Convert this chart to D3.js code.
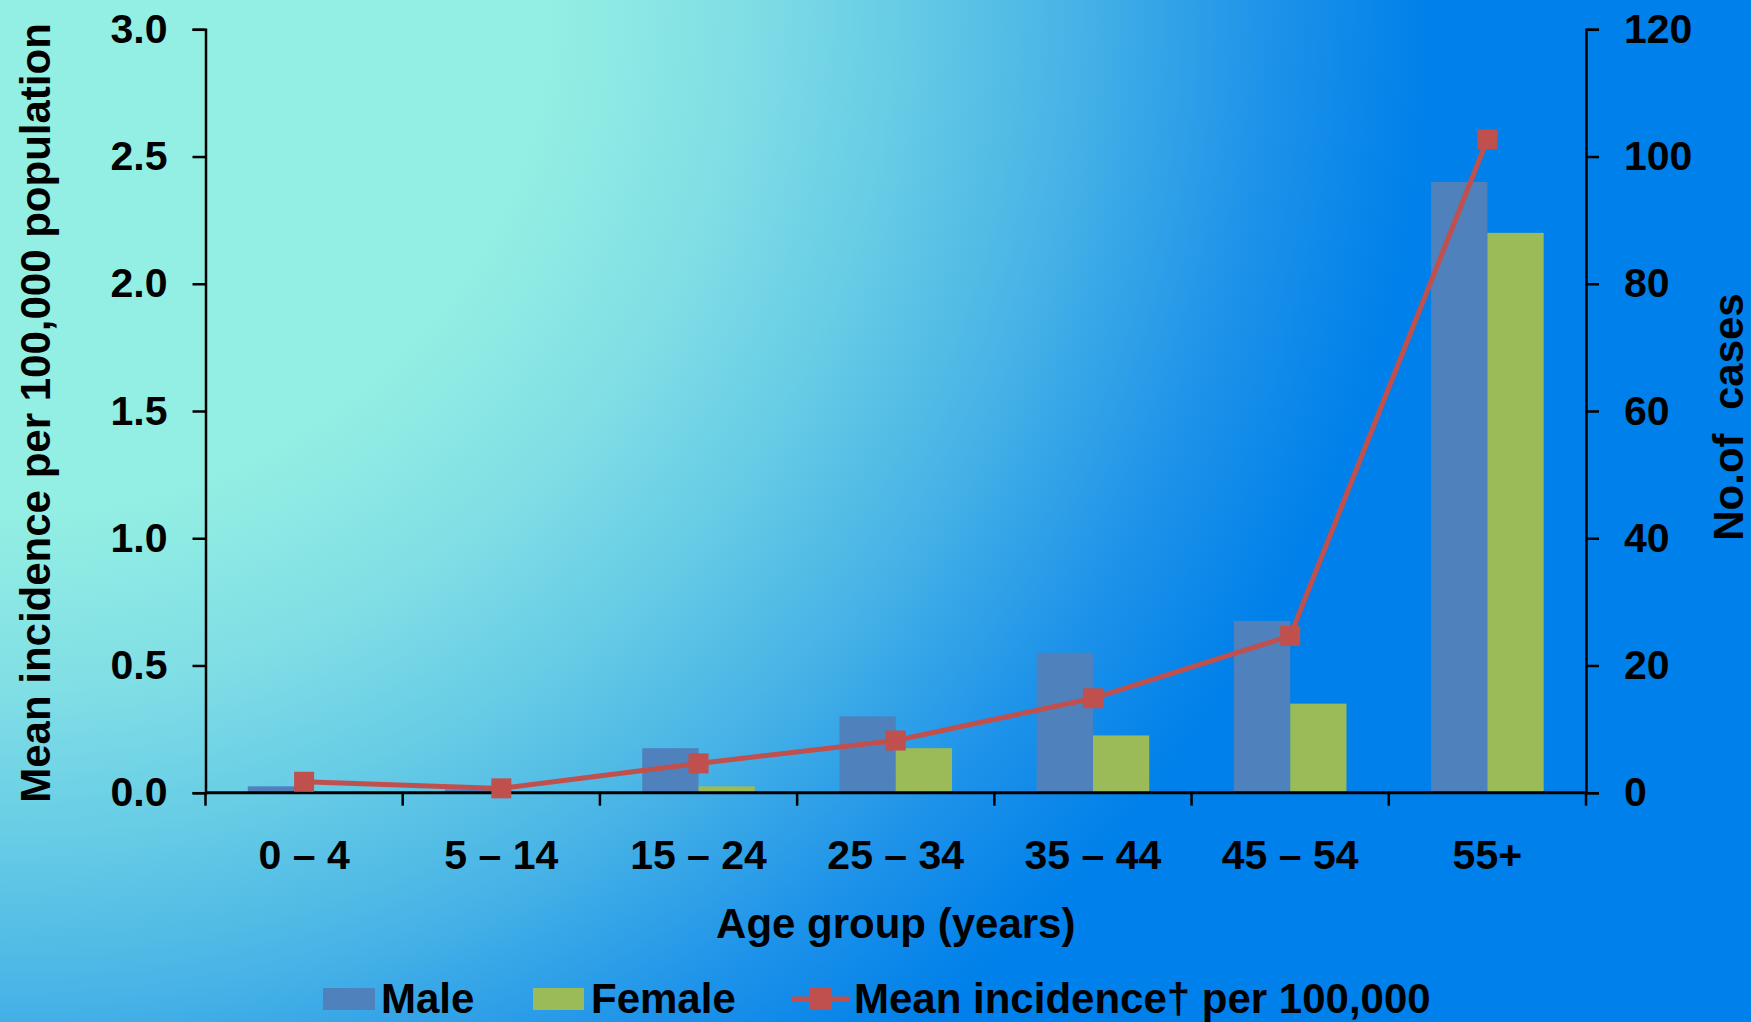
<!DOCTYPE html>
<html>
<head>
<meta charset="utf-8">
<script src="https://cdn.jsdelivr.net/npm/d3@7"></script>
<style>
  body { margin: 0; }
  svg text { font-family: "Liberation Sans", Arial, sans-serif; font-weight: bold; fill: #000; }
</style>
</head>
<body>
<div id="chart"></div>
<script>
// data
var ageGroups = ["0 \u2013 4", "5 \u2013 14", "15 \u2013 24", "25 \u2013 34", "35 \u2013 44", "45 \u2013 54", "55+"];
var maleCases = [1, 0.5, 7, 12, 22, 27, 96];
var femaleCases = [0, 0, 1, 7, 9, 14, 88];
var meanIncidence = [0.043, 0.017, 0.115, 0.205, 0.371, 0.616, 2.567];
var leftTicks = [0, 0.5, 1.0, 1.5, 2.0, 2.5, 3.0];
var rightTicks = [0, 20, 40, 60, 80, 100, 120];
var seriesNames = ["Male", "Female"];

var svgWidth = 1751;
var svgHeight = 1022;

var plot = { left: 205.5, right: 1586, top: 29.3, bottom: 792.7 };

var svg = d3.select("#chart")
  .append("svg")
  .attr("width", svgWidth)
  .attr("height", svgHeight);

// background: radial gradient from the top-left corner, mint to blue
var defs = svg.append("defs");
var grad = defs.append("radialGradient")
  .attr("id", "bg")
  .attr("gradientUnits", "userSpaceOnUse")
  .attr("cx", 0).attr("cy", 0).attr("r", 1484)
  .attr("gradientTransform", "scale(1,0.934)");
[[0, "#93efe3"], [0.37, "#93efe3"], [0.5, "#80dee5"], [0.6, "#68cde5"], [0.714, "#4ab5e6"], [0.857, "#1d92e9"], [0.964, "#0080ea"], [1, "#0080ea"]]
  .forEach(function(s) {
    grad.append("stop").attr("offset", s[0]).attr("stop-color", s[1]);
  });
svg.append("rect").attr("width", svgWidth).attr("height", svgHeight).attr("fill", "url(#bg)");

// scales
var x0 = d3.scaleBand()
  .domain(ageGroups)
  .range([plot.left, plot.right])
  .paddingInner(0).paddingOuter(0);

var x1 = d3.scaleBand()
  .domain(seriesNames)
  .range([0, x0.bandwidth()])
  .paddingInner(0)
  .paddingOuter(0.752);

var yLeft = d3.scaleLinear().domain([0, 3]).range([plot.bottom, plot.top]);
var yRight = d3.scaleLinear().domain([0, 120]).range([plot.bottom, plot.top]);

var colors = { Male: "#4f81bd", Female: "#9bbb59" };

// bars (No. of cases, right axis)
var barData = [];
ageGroups.forEach(function(g, i) {
  barData.push({ group: g, series: "Male", value: maleCases[i] });
  barData.push({ group: g, series: "Female", value: femaleCases[i] });
});

svg.append("g").selectAll("rect")
  .data(barData)
  .enter()
  .append("rect")
  .attr("x", d => x0(d.group) + x1(d.series))
  .attr("width", x1.bandwidth())
  .attr("y", d => yRight(d.value))
  .attr("height", d => plot.bottom - yRight(d.value))
  .attr("fill", d => colors[d.series]);

// axes
var leftAxis = d3.axisLeft(yLeft).tickValues(leftTicks).tickFormat(d3.format(".1f")).tickSize(13).tickPadding(25);
var rightAxis = d3.axisRight(yRight).tickValues(rightTicks).tickSize(13).tickPadding(25);

var gl = svg.append("g").attr("transform", `translate(${plot.left},0)`).call(leftAxis);
var gr = svg.append("g").attr("transform", `translate(${plot.right},0)`).call(rightAxis);

// bottom axis: ticks at band boundaries, labels at centres
var gb = svg.append("g").attr("transform", `translate(0,${plot.bottom})`);
gb.append("line")
  .attr("x1", plot.left).attr("x2", plot.right)
  .attr("stroke", "#000").attr("stroke-width", 3);
var boundaries = ageGroups.map(g => x0(g)).concat([plot.right]);
gb.selectAll("line.tick")
  .data(boundaries)
  .enter()
  .append("line")
  .attr("class", "tick")
  .attr("x1", d => d).attr("x2", d => d)
  .attr("y1", 0).attr("y2", 13)
  .attr("stroke", "#000").attr("stroke-width", 2.5);
gb.selectAll("text")
  .data(ageGroups)
  .enter()
  .append("text")
  .attr("x", d => x0(d) + x0.bandwidth() / 2)
  .attr("y", 76)
  .attr("text-anchor", "middle")
  .style("font-size", "41px")
  .text(d => d);

[gl, gr].forEach(function(g) {
  g.select(".domain").attr("stroke", "#000").attr("stroke-width", 2.5);
  g.selectAll(".tick line").attr("stroke", "#000").attr("stroke-width", 2.5);
  g.selectAll(".tick text").style("font-size", "41px").attr("fill", "#000");
});

// line (mean incidence, left axis)
var lineGen = d3.line()
  .x((d, i) => x0(ageGroups[i]) + x0.bandwidth() / 2)
  .y(d => yLeft(d));

svg.append("path")
  .datum(meanIncidence)
  .attr("d", lineGen)
  .attr("fill", "none")
  .attr("stroke", "#c0504d")
  .attr("stroke-width", 5);

svg.append("g").selectAll("rect")
  .data(meanIncidence)
  .enter()
  .append("rect")
  .attr("x", (d, i) => x0(ageGroups[i]) + x0.bandwidth() / 2 - 10)
  .attr("y", d => yLeft(d) - 10)
  .attr("width", 20)
  .attr("height", 20)
  .attr("fill", "#c0504d");

// axis titles
svg.append("text")
  .attr("transform", "translate(50,413) rotate(-90)")
  .attr("text-anchor", "middle")
  .style("font-size", "42px")
  .text("Mean incidence per 100,000 population");

svg.append("text")
  .attr("transform", "translate(1743,417) rotate(-90)")
  .attr("text-anchor", "middle")
  .style("font-size", "42px")
  .attr("xml:space", "preserve")
  .style("white-space", "pre")
  .text("No.of  cases");

svg.append("text")
  .attr("x", (plot.left + plot.right) / 2)
  .attr("y", 938)
  .attr("text-anchor", "middle")
  .style("font-size", "42px")
  .text("Age group (years)");

// legend
var legend = svg.append("g");
legend.append("rect").attr("x", 323).attr("y", 988).attr("width", 52).attr("height", 22).attr("fill", colors.Male);
legend.append("text").attr("x", 381).attr("y", 1013).style("font-size", "42px").text("Male");
legend.append("rect").attr("x", 533).attr("y", 988).attr("width", 51).attr("height", 22).attr("fill", colors.Female);
legend.append("text").attr("x", 591).attr("y", 1013).style("font-size", "42px").text("Female");
legend.append("line").attr("x1", 792).attr("x2", 849).attr("y1", 999).attr("y2", 999)
  .attr("stroke", "#c0504d").attr("stroke-width", 5);
legend.append("rect").attr("x", 810).attr("y", 988).attr("width", 22).attr("height", 22).attr("fill", "#c0504d");
legend.append("text").attr("x", 854).attr("y", 1013).style("font-size", "42px").text("Mean incidence\u2020 per 100,000");
</script>
</body>
</html>
